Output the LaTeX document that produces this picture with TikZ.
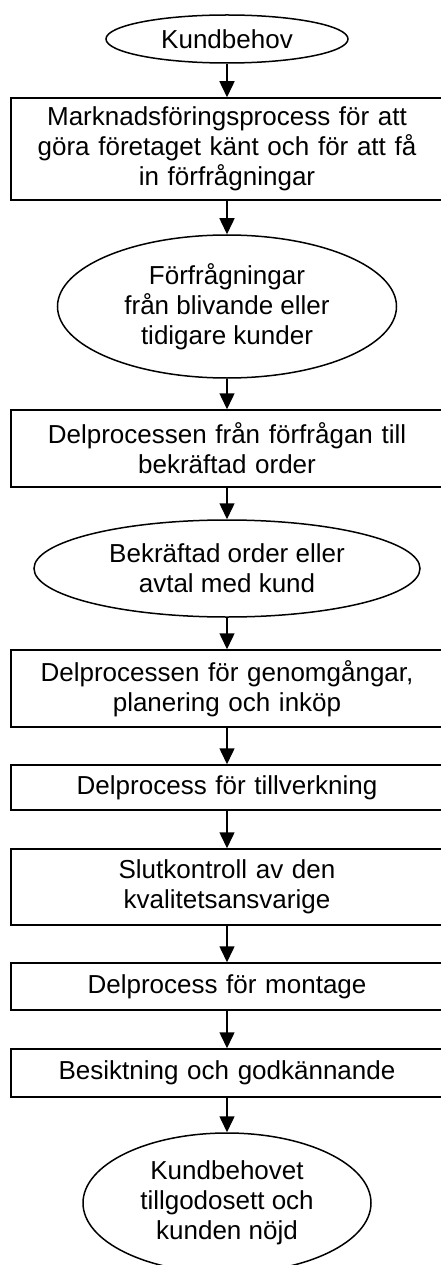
\documentclass[tikz,border=0pt]{standalone}
\usepackage{fontspec}
\setmainfont{Liberation Sans}
\usetikzlibrary{shapes.geometric,arrows.meta}

\tikzset{
  flowfont/.style={font=\fontsize{26}{30}\selectfont, align=center},
  procbox/.style={flowfont, draw, line width=1.5pt, rectangle, inner sep=0pt,
    minimum width=432pt, text width=420pt},
  state/.style={flowfont, draw, line width=1.5pt, ellipse, inner sep=0pt},
  flow/.style={line width=1.5pt, -{Triangle[width=15pt,length=16pt]}}
}

\begin{document}
\begin{tikzpicture}[x=1pt,y=-1pt]
  \clip (0,0) rectangle (441,1265);

  % start and end states
  \node[state, minimum width=242pt, minimum height=48pt] (need) at (227,39) {Kundbehov};
  \node[state, minimum width=339pt, minimum height=143pt] (inq) at (227,306.5)
    {Förfrågningar\\från blivande eller\\tidigare kunder};
  \node[state, minimum width=386pt, minimum height=97pt] (order) at (227,568.5)
    {Bekräftad order eller\\avtal med kund};
  \node[state, minimum width=288pt, minimum height=140pt] (done) at (227,1203)
    {Kundbehovet\\tillgodosett och\\kunden nöjd};

  % process steps
  \node[procbox, minimum height=102pt] (mkt) at (227,149)
    {Marknadsföringsprocess för att\\göra företaget känt och för att få\\in förfrågningar};
  \node[procbox, minimum height=77pt] (sale) at (227,448.5)
    {Delprocessen från förfrågan till\\bekräftad order};
  \node[procbox, minimum height=77pt] (plan) at (227,688.5)
    {Delprocessen för genomgångar,\\planering och inköp};
  \node[procbox, minimum height=45pt] (make) at (227,787.5)
    {Delprocess för tillverkning};
  \node[procbox, minimum height=76pt] (check) at (227,887)
    {Slutkontroll av den\\kvalitetsansvarige};
  \node[procbox, minimum height=47pt] (mount) at (227,986.5)
    {Delprocess för montage};
  \node[procbox, minimum height=48pt] (insp) at (227,1073)
    {Besiktning och godkännande};

  % connectors
  \draw[flow] (need) -- (mkt);
  \draw[flow] (mkt) -- (inq);
  \draw[flow] (inq) -- (sale);
  \draw[flow] (sale) -- (order);
  \draw[flow] (order) -- (plan);
  \draw[flow] (plan) -- (make);
  \draw[flow] (make) -- (check);
  \draw[flow] (check) -- (mount);
  \draw[flow] (mount) -- (insp);
  \draw[flow] (insp) -- (done);
\end{tikzpicture}
\end{document}
